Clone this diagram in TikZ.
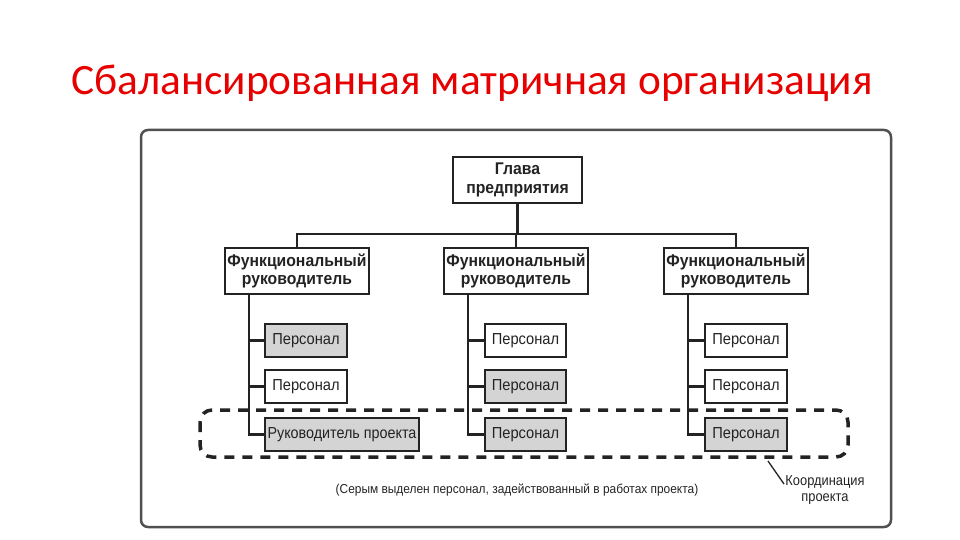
\documentclass[tikz,border=0pt]{standalone}
\usepackage{fontspec}
\setmainfont{Liberation Sans}
\newfontfamily\titlefont{Carlito}
\newfontfamily\headfont[FakeStretch=0.93]{Liberation Sans}
\newfontfamily\staffont[FakeStretch=0.92]{Liberation Sans}
\newfontfamily\pmfont[FakeStretch=0.9]{Liberation Sans}
\newfontfamily\notefont[FakeStretch=0.92]{Liberation Sans}
\newfontfamily\coordfont[FakeStretch=0.89]{Liberation Sans}
\usetikzlibrary{calc}
\definecolor{titlered}{RGB}{230,0,0}
\definecolor{boxgray}{RGB}{212,212,212}
\definecolor{framegray}{RGB}{80,80,80}
\definecolor{ink}{RGB}{35,35,35}
\tikzset{
  headbox/.style={draw=ink, line width=2bp, fill=white, inner sep=0pt, align=center,
    font=\headfont\bfseries\fontsize{17}{18.5}\selectfont, text=ink},
  staffbox/.style={draw=ink, line width=2bp, fill=white, inner sep=0pt, minimum height=33bp,
    font=\staffont\fontsize{16}{18}\selectfont, text=ink},
  busy/.style={fill=boxgray},
  link/.style={draw=ink, line width=2.2bp},
}
\begin{document}
\begin{tikzpicture}[x=1bp,y=-1bp]
\useasboundingbox (0,0) rectangle (960,540);
\node[font=\titlefont\fontsize{43.5}{48}\selectfont, text=titlered] (title) at (472,83) {Сбалансированная матричная организация};
\draw[framegray, line width=2.5bp, rounded corners=7bp] (141,130) rectangle (891,527);

\node[headbox, minimum width=129bp, minimum height=46bp] (top) at (517.5,180) {Глава\\предприятия};
\node[headbox, minimum width=144bp, minimum height=46bp] (f1) at (297,271) {Функциональный\\руководитель};
\node[headbox, minimum width=144bp, minimum height=46bp] (f2) at (516,271) {Функциональный\\руководитель};
\node[headbox, minimum width=144bp, minimum height=46bp] (f3) at (736,271) {Функциональный\\руководитель};

\coordinate (j) at (517.5,234);
\draw[link] (top.south) -- (j);
\draw[link] (f1.north) -- (f1.north |- j) -- (f3.north |- j) -- (f3.north);
\draw[link] (f2.north) -- (f2.north |- j);

\node[staffbox, busy, minimum width=82bp] (p11) at (306,340.5) {Персонал};
\node[staffbox, minimum width=82bp] (p12) at (306,386.5) {Персонал};
\node[staffbox, busy, minimum width=154bp, font=\pmfont\fontsize{16}{18}\selectfont] (p13) at (342,434.5) {Руководитель проекта};
\node[staffbox, minimum width=81bp] (p21) at (525.5,340.5) {Персонал};
\node[staffbox, busy, minimum width=81bp] (p22) at (525.5,386.5) {Персонал};
\node[staffbox, busy, minimum width=81bp] (p23) at (525.5,434.5) {Персонал};
\node[staffbox, minimum width=82bp] (p31) at (746,340.5) {Персонал};
\node[staffbox, minimum width=82bp] (p32) at (746,386.5) {Персонал};
\node[staffbox, busy, minimum width=82bp] (p33) at (746,434.5) {Персонал};

\foreach \c in {1,2,3}{
  \coordinate (s\c) at ([xshift=25bp]f\c.south west);
  \draw[link] (s\c) |- (p\c3.west);
  \draw[link] (p\c1.west) -| (s\c);
  \draw[link] (p\c2.west) -| (s\c);
}

\draw[ink, line width=3.5bp, dash pattern=on 10bp off 8bp, rounded corners=12bp] (200,410) rectangle (848,457);

\node[font=\notefont\fontsize{13}{15}\selectfont, text=ink] (note) at (517,490) {(Серым выделен персонал, задействованный в работах проекта)};
\node[font=\coordfont\fontsize{14.5}{17}\selectfont, text=ink, align=center, inner sep=0pt] (coord) at (825,490) {Координация\\проекта};
\coordinate (cc) at (768,461);
\coordinate (ce) at (784,484);
\draw[ink, line width=1.3bp] (cc) -- (ce);
\end{tikzpicture}
\end{document}
